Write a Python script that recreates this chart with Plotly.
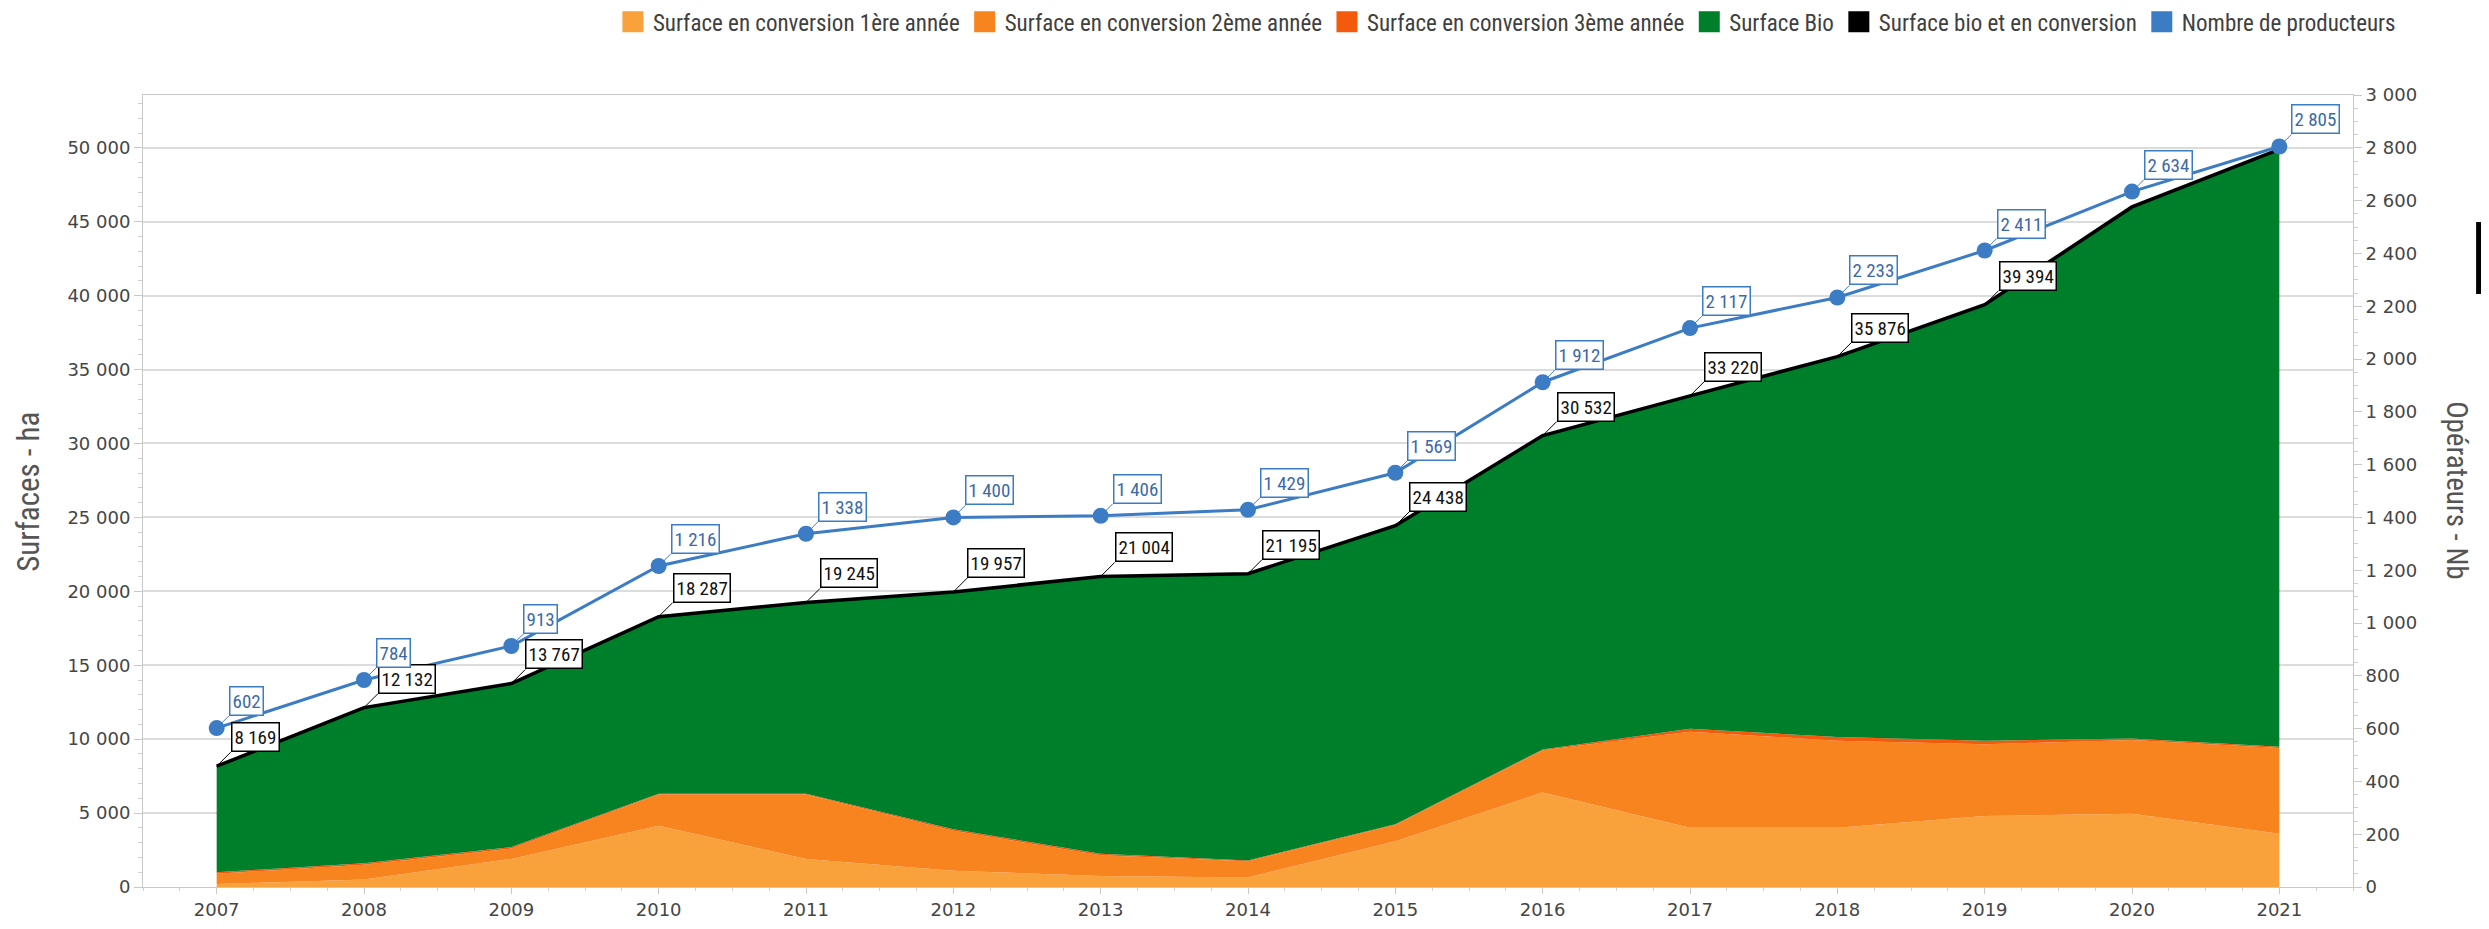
import plotly.graph_objects as go

# Données (surfaces en ha, producteurs en nombre)
years = [2007, 2008, 2009, 2010, 2011, 2012, 2013, 2014, 2015, 2016, 2017, 2018, 2019, 2020, 2021]
conv_1 = [200, 500, 1900, 4150, 1900, 1100, 750, 650, 3100, 6400, 4000, 4000, 4800, 4950, 3600]
conv_2 = [700, 1000, 700, 2100, 4350, 2700, 1400, 1100, 1100, 2850, 6500, 5900, 4850, 5000, 5800]
conv_3 = [100, 100, 100, 50, 50, 100, 100, 50, 50, 50, 200, 250, 250, 100, 80]
bio = [7169, 10532, 11067, 11987, 12945, 16057, 18754, 19395, 20188, 21232, 22520, 25726, 29494, 35950, 40420]
total = [8169, 12132, 13767, 18287, 19245, 19957, 21004, 21195, 24438, 30532, 33220, 35876, 39394, 46000, 49900]
total_labels = ["8 169", "12 132", "13 767", "18 287", "19 245", "19 957", "21 004", "21 195",
                "24 438", "30 532", "33 220", "35 876", "39 394", None, None]
producers = [602, 784, 913, 1216, 1338, 1400, 1406, 1429, 1569, 1912, 2117, 2233, 2411, 2634, 2805]
producer_labels = ["602", "784", "913", "1 216", "1 338", "1 400", "1 406", "1 429",
                   "1 569", "1 912", "2 117", "2 233", "2 411", "2 634", "2 805"]

left_ticks = list(range(0, 50001, 5000))
left_ticktext = ["0"] + [f"{v // 1000} 000" for v in left_ticks[1:]]
right_ticks = list(range(0, 3001, 200))
right_ticktext = [f"{v:,}".replace(",", " ") for v in right_ticks]

col_c1 = "#F9A23C"
col_c2 = "#F7841F"
col_c3 = "#F45A0C"
col_bio = "#007F2A"
col_total = "#000000"
col_prod = "#3B7CC4"

narrow = "Liberation Sans Narrow, Roboto Condensed, Arial Narrow, sans-serif"
tickfont = dict(family="DejaVu Sans, Verdana, sans-serif", size=18, color="#454545")

fig = go.Figure()

# aires empilées
for name, vals, col in [("Surface en conversion 1ère année", conv_1, col_c1),
                        ("Surface en conversion 2ème année", conv_2, col_c2),
                        ("Surface en conversion 3ème année", conv_3, col_c3),
                        ("Surface Bio", bio, col_bio)]:
    fig.add_trace(go.Scatter(
        x=years, y=vals, name=name, stackgroup="surf", mode="none",
        fillcolor=col, line=dict(width=0), showlegend=False
    ))

# total bio + conversion
fig.add_trace(go.Scatter(
    x=years, y=total, name="Surface bio et en conversion", mode="lines",
    line=dict(color=col_total, width=3.5), showlegend=False
))

# nombre de producteurs (axe de droite)
fig.add_trace(go.Scatter(
    x=years, y=producers, name="Nombre de producteurs", mode="lines+markers",
    line=dict(color=col_prod, width=3), marker=dict(color=col_prod, size=16),
    yaxis="y2", showlegend=False
))

# entrées de légende (carrés)
for name, col in [("Surface en conversion 1ère année", col_c1),
                  ("Surface en conversion 2ème année", col_c2),
                  ("Surface en conversion 3ème année", col_c3),
                  ("Surface Bio", col_bio),
                  ("Surface bio et en conversion", col_total),
                  ("Nombre de producteurs", col_prod)]:
    fig.add_trace(go.Scatter(
        x=[None], y=[None], name=name, mode="markers",
        marker=dict(symbol="square", size=24, color=col, line=dict(color=col, width=5))
    ))

annotations = []
for x, y, t in zip(years, total, total_labels):
    if t is None:
        continue
    annotations.append(dict(
        x=x, y=y, xref="x", yref="y", text=t, showarrow=True, arrowhead=0,
        arrowwidth=1, arrowcolor="#000000", ax=14, ay=-14,
        xanchor="left", yanchor="bottom", bgcolor="white",
        bordercolor="#000000", borderwidth=1.5, borderpad=2,
        font=dict(family=narrow, size=19, color="#111111")
    ))
for x, y, t in zip(years, producers, producer_labels):
    annotations.append(dict(
        x=x, y=y, xref="x", yref="y2", text=t, showarrow=True, arrowhead=0,
        arrowwidth=1, arrowcolor=col_prod, ax=12, ay=-12,
        xanchor="left", yanchor="bottom", bgcolor="white",
        bordercolor=col_prod, borderwidth=1.5, borderpad=2,
        font=dict(family=narrow, size=19, color="#3C6AA8")
    ))

# titres des axes
annotations.append(dict(
    text="Surfaces - ha", xref="paper", yref="paper", x=-0.0516, y=0.499,
    xanchor="center", yanchor="middle",
    showarrow=False, textangle=-90, font=dict(family=narrow, size=31, color="#555555")
))
annotations.append(dict(
    text="Opérateurs - Nb", xref="paper", yref="paper", x=1.047, y=0.50,
    xanchor="center", yanchor="middle",
    showarrow=False, textangle=90, font=dict(family=narrow, size=29, color="#555555")
))

# la page ajoute une marge de 8 px autour de la figure
fig.update_layout(
    width=2473, height=913,
    margin=dict(l=135, r=128, t=87, b=34),
    paper_bgcolor="white", plot_bgcolor="white",
    annotations=annotations,
    legend=dict(orientation="h", traceorder="normal",
                x=0.2446, xanchor="left", xref="container",
                y=0.985, yanchor="middle", yref="container",
                font=dict(family=narrow, size=23, color="#404040"),
                itemwidth=30, tracegroupgap=0),
    xaxis=dict(range=[2006.5, 2021.5], tickmode="array", tickvals=years,
               ticks="outside", ticklen=6, tickcolor="#c8c8c8", tickfont=tickfont,
               showgrid=False, showline=True, linecolor="#c8c8c8", linewidth=1,
               mirror=True, zeroline=False, automargin=False,
               minor=dict(dtick=0.25, ticks="outside", ticklen=3, tickcolor="#d0d0d0")),
    yaxis=dict(range=[0, 53571], tickmode="array", tickvals=left_ticks, ticktext=left_ticktext,
               ticks="outside", ticklen=8, tickcolor="#c8c8c8", tickfont=tickfont,
               showgrid=True, gridcolor="#dcdcdc", gridwidth=1.5, automargin=False,
               showline=True, linecolor="#c8c8c8", linewidth=1, zeroline=False,
               minor=dict(dtick=1000, ticks="outside", ticklen=4, tickcolor="#d0d0d0")),
    yaxis2=dict(range=[0, 3000], overlaying="y", side="right", tickmode="array",
                tickvals=right_ticks, ticktext=right_ticktext, automargin=False,
                ticks="outside", ticklen=8, tickcolor="#c8c8c8", tickfont=tickfont,
                showgrid=False, showline=True, linecolor="#c8c8c8", linewidth=1,
                zeroline=False,
                minor=dict(dtick=50, ticks="outside", ticklen=4, tickcolor="#d0d0d0")),
    shapes=[dict(type="rect", xref="paper", yref="paper", x0=1.0557, x1=1.0602,
                 y0=0.7487, y1=0.8396, fillcolor="black", line=dict(width=0))],
)

fig.write_html("out.html")
